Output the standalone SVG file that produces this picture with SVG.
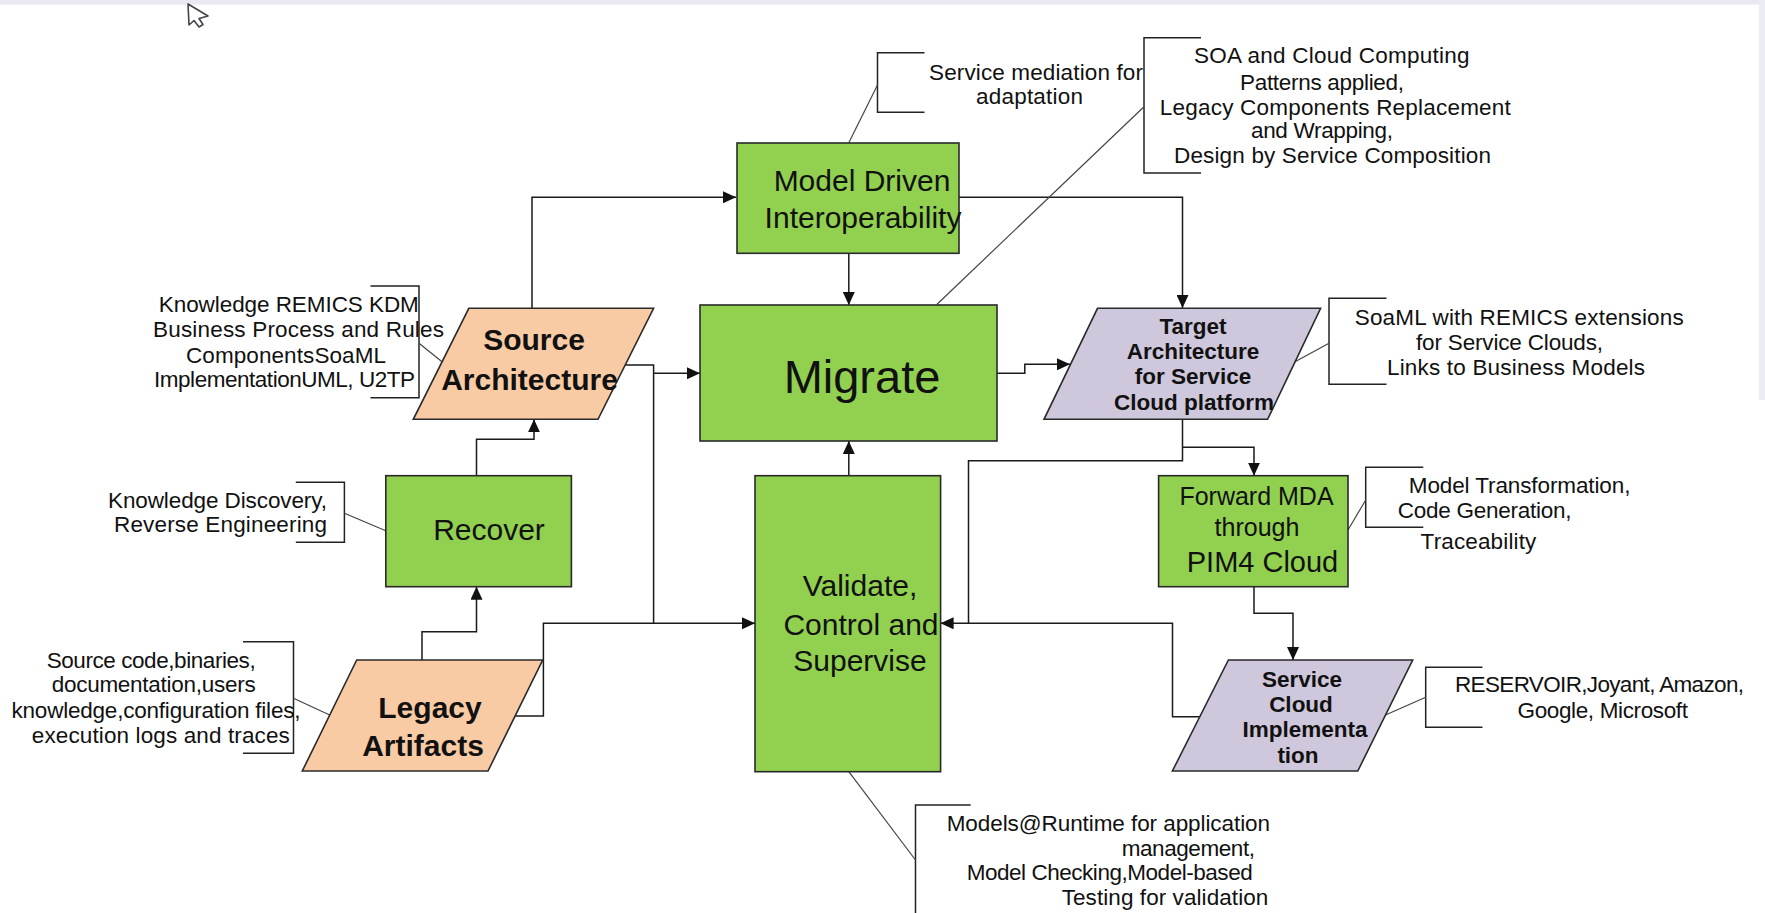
<svg xmlns="http://www.w3.org/2000/svg" width="1765" height="913" viewBox="0 0 1765 913">
  <defs>
    <marker id="arrow" viewBox="0 0 10 10" refX="10" refY="5" markerWidth="13" markerHeight="12" markerUnits="userSpaceOnUse" orient="auto" preserveAspectRatio="none">
      <path d="M0,0 L10,5 L0,10 z" fill="#111"/>
    </marker>
    <style>
      text { font-family: "Liberation Sans", Arial, sans-serif; fill: #111; }
      .node { stroke: #2a2a2a; stroke-width: 1.6; }
      .green { fill: #92d050; }
      .peach { fill: #f9cba4; }
      .lav { fill: #cfc7dc; }
      .t30 { font-size: 30px; text-anchor: middle; }
      .b30 { font-size: 30px; font-weight: bold; text-anchor: middle; }
      .b22 { font-size: 22.5px; font-weight: bold; text-anchor: middle; }
      .ann { font-size: 22.5px; }
      .wire { fill: none; stroke: #1a1a1a; stroke-width: 1.5; }
      .brk { fill: none; stroke: #222; stroke-width: 1.5; }
      .lead { fill: none; stroke: #444; stroke-width: 1.2; }
    </style>
  </defs>

  <rect width="1765" height="913" fill="#ffffff"/>
  <!-- window chrome -->
  <rect x="0" y="0" width="1765" height="4.5" fill="#e9e9f1"/>
  <rect x="1759" y="0" width="6" height="400" fill="#ececf4"/>
  <!-- pointer -->
  <path d="M188,4 L189,25 L194,20.5 L199,27 L203,24.5 L199,18.5 L208,16 Z" fill="#ffffff" stroke="#44444c" stroke-width="1.6" stroke-linejoin="round"/>

  <!-- connectors -->
  <g id="connectors">
    <path class="wire" d="M532,308 V197.3 H736" marker-end="url(#arrow)"/>
    <path class="wire" d="M848.8,253.3 V305" marker-end="url(#arrow)"/>
    <path class="wire" d="M959,197.3 H1182.5 V308" marker-end="url(#arrow)"/>
    <path class="wire" d="M625,365 H653.6 V623.3"/>
    <path class="wire" d="M653.6,373.3 H700" marker-end="url(#arrow)"/>
    <path class="wire" d="M997,373.3 H1024.8 V364.3 H1070" marker-end="url(#arrow)"/>
    <path class="wire" d="M476.5,475.7 V439.3 H534 V419.3" marker-end="url(#arrow)"/>
    <path class="wire" d="M422,660 V631.7 H476.5 V586.7" marker-end="url(#arrow)"/>
    <path class="wire" d="M515,716 H543.4 V623.3 H755" marker-end="url(#arrow)"/>
    <path class="wire" d="M848.8,475.7 V441" marker-end="url(#arrow)"/>
    <path class="wire" d="M1182.5,419.3 V460.7 H968.5 V623.3"/>
    <path class="wire" d="M1182.5,447.3 H1254 V475.7" marker-end="url(#arrow)"/>
    <path class="wire" d="M1199.8,716.7 H1172.5 V623.3 H940.6" marker-end="url(#arrow)"/>
    <path class="wire" d="M1254,586.7 V613.3 H1293 V660" marker-end="url(#arrow)"/>
  </g>

  <!-- annotation brackets and leader lines -->
  <g id="annotations">
    <path class="brk" d="M924.5,52.7 H877.5 V112.3 H924.5"/>
    <path class="lead" d="M877.5,85 L848.8,142.7"/>
    <path class="brk" d="M1201,37.7 H1144 V173 H1201"/>
    <path class="lead" d="M1144,106.7 L936.8,304.5"/>
    <path class="brk" d="M370.5,286 H419 V397.7 H370.5"/>
    <path class="lead" d="M419,343.3 L442,361.7"/>
    <path class="brk" d="M1386.5,298.3 H1329 V384.3 H1386.5"/>
    <path class="lead" d="M1329,343.3 L1295,361.7"/>
    <path class="brk" d="M295.8,482.3 H344.4 V542.3 H295.8"/>
    <path class="lead" d="M344.4,513.3 L385.8,530.7"/>
    <path class="brk" d="M243,641.7 H293.5 V753.3 H243"/>
    <path class="lead" d="M293.5,698.3 L329.7,715"/>
    <path class="brk" d="M1423.3,467.3 H1365.7 V527.3 H1423.3"/>
    <path class="lead" d="M1365.7,500 L1348,530"/>
    <path class="brk" d="M1482.5,667.3 H1425.7 V727.3 H1482.5"/>
    <path class="lead" d="M1425.7,697.3 L1385.5,715"/>
    <path class="brk" d="M970.7,805 H915.5 V913"/>
    <path class="lead" d="M848.8,771.7 L915.5,860"/>

    <text class="ann" x="929" y="80" textLength="214">Service mediation for</text>
    <text class="ann" x="976" y="103.5" textLength="107">adaptation</text>

    <text class="ann" x="1194" y="63.3" textLength="275.6">SOA and Cloud Computing</text>
    <text class="ann" x="1240" y="89.5" textLength="164">Patterns applied,</text>
    <text class="ann" x="1159.8" y="114.5" textLength="351">Legacy Components Replacement</text>
    <text class="ann" x="1251" y="138" textLength="142">and Wrapping,</text>
    <text class="ann" x="1174" y="162.7" textLength="317">Design by Service Composition</text>

    <text class="ann" x="158.8" y="311.7" textLength="260">Knowledge REMICS KDM</text>
    <text class="ann" x="153" y="336.7" textLength="291">Business Process and Rules</text>
    <text class="ann" x="186" y="363" textLength="200">ComponentsSoaML</text>
    <text class="ann" x="154" y="386.5" textLength="261">ImplementationUML, U2TP</text>

    <text class="ann" x="1354.7" y="325" textLength="329">SoaML with REMICS extensions</text>
    <text class="ann" x="1416" y="350" textLength="187">for Service Clouds,</text>
    <text class="ann" x="1387" y="375" textLength="258">Links to Business Models</text>

    <text class="ann" x="108" y="508.3" textLength="219">Knowledge Discovery,</text>
    <text class="ann" x="114" y="531.7" textLength="213">Reverse Engineering</text>

    <text class="ann" x="46.7" y="668.3" textLength="209">Source code,binaries,</text>
    <text class="ann" x="51.7" y="691.7" textLength="204">documentation,users</text>
    <text class="ann" x="11.5" y="718.3" textLength="289">knowledge,configuration files,</text>
    <text class="ann" x="31.8" y="742.7" textLength="258">execution logs and traces</text>

    <text class="ann" x="1408.8" y="493.3" textLength="221.6">Model Transformation,</text>
    <text class="ann" x="1397.8" y="518.3" textLength="173.8">Code Generation,</text>
    <text class="ann" x="1420.6" y="549.3" textLength="115.7">Traceability</text>

    <text class="ann" x="1455" y="691.7" textLength="289">RESERVOIR,Joyant, Amazon,</text>
    <text class="ann" x="1517.5" y="718.3" textLength="170.5">Google, Microsoft</text>

    <text class="ann" x="946.7" y="830.5" textLength="323.3">Models@Runtime for application</text>
    <text class="ann" x="1121.7" y="855.5" textLength="133.3">management,</text>
    <text class="ann" x="966.7" y="880" textLength="286">Model Checking,Model-based</text>
    <text class="ann" x="1061.7" y="905" textLength="206.6">Testing for validation</text>
  </g>

  <!-- nodes -->
  <g id="model-driven-interoperability">
    <rect class="node green" x="737" y="143" width="222" height="110.3"/>
    <text class="t30" x="862" y="190.7">Model Driven</text>
    <text class="t30" x="863" y="228">Interoperability</text>
  </g>

  <g id="migrate">
    <rect class="node green" x="700" y="305" width="297" height="136"/>
    <text x="862" y="393" font-size="47" text-anchor="middle">Migrate</text>
  </g>

  <g id="source-architecture">
    <polygon class="node peach" points="468.8,308.3 653.6,308.3 598,419.3 413.3,419.3"/>
    <text class="b30" x="534" y="350">Source</text>
    <text class="b30" x="529.5" y="390">Architecture</text>
  </g>

  <g id="target-architecture">
    <polygon class="node lav" points="1097.5,308.3 1320.6,308.3 1267.6,419.3 1044,419.3"/>
    <text class="b22" x="1193" y="334">Target</text>
    <text class="b22" x="1193" y="358.5">Architecture</text>
    <text class="b22" x="1193" y="384">for Service</text>
    <text class="b22" x="1194" y="409.5">Cloud platform</text>
  </g>

  <g id="recover">
    <rect class="node green" x="385.8" y="475.7" width="185.6" height="111"/>
    <text class="t30" x="489" y="540">Recover</text>
  </g>

  <g id="validate-control-supervise">
    <rect class="node green" x="755" y="475.7" width="185.6" height="296"/>
    <text class="t30" x="860" y="595.7">Validate,</text>
    <text class="t30" x="861" y="635">Control and</text>
    <text class="t30" x="860" y="671">Supervise</text>
  </g>

  <g id="forward-mda">
    <rect class="node green" x="1158.6" y="475.7" width="189.4" height="111"/>
    <text x="1256.5" y="505" font-size="25" text-anchor="middle">Forward MDA</text>
    <text x="1257" y="536" font-size="25" text-anchor="middle">through</text>
    <text x="1262.5" y="571.7" font-size="29" text-anchor="middle">PIM4 Cloud</text>
  </g>

  <g id="legacy-artifacts">
    <polygon class="node peach" points="356.7,660 542.7,660 488,771 302.3,771"/>
    <text class="b30" x="430" y="718">Legacy</text>
    <text class="b30" x="423" y="756">Artifacts</text>
  </g>

  <g id="service-cloud-implementation">
    <polygon class="node lav" points="1228.4,660 1412.7,660 1357.8,771 1172.4,771"/>
    <text class="b22" x="1302" y="686.7">Service</text>
    <text class="b22" x="1301" y="711.7">Cloud</text>
    <text class="b22" x="1305" y="736.7">Implementa</text>
    <text class="b22" x="1298" y="762.7">tion</text>
  </g>
</svg>
